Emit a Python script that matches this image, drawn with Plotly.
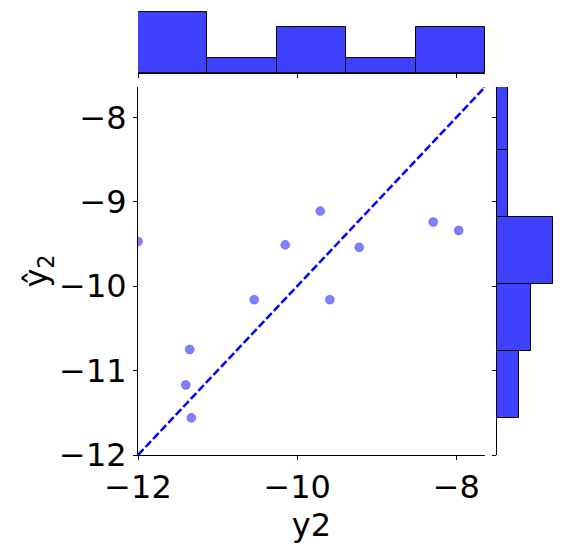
import plotly.graph_objects as go

# observed y2 vs predicted y2 hat (one point sits above the visible range)
y2_true = [-12.0, -9.71, -10.15, -9.22, -8.29, -7.97, -10.54, -9.59, -11.35, -11.40, -11.33, -7.64]
y2_pred = [-9.47, -9.11, -9.51, -9.54, -9.24, -9.34, -10.16, -10.16, -10.75, -11.17, -11.56, -7.60]
tick_vals_x = [-12, -10, -8]
tick_vals_y = [-12, -11, -10, -9, -8]
lim = [-12.0, -7.64]
n_bins = 5

font = "DejaVu Sans, sans-serif"
hist_fill = "rgba(0,0,255,0.75)"

fig = go.Figure()

fig.add_trace(go.Scatter(
    x=y2_true, y=y2_pred, mode="markers",
    marker=dict(size=9, color="rgba(0,0,255,0.5)",
                line=dict(width=1, color="rgba(0,0,255,0.25)")),
    xaxis="x", yaxis="y", showlegend=False))

fig.add_trace(go.Scatter(
    x=lim, y=lim, mode="lines",
    line=dict(color="blue", width=2.5, dash="8px,3px"),
    xaxis="x", yaxis="y", showlegend=False))

xs = (max(y2_true) - min(y2_true)) / n_bins * 1.0001
fig.add_trace(go.Histogram(
    x=y2_true, xbins=dict(start=min(y2_true), end=max(y2_true), size=xs),
    marker=dict(color=hist_fill, line=dict(color="black", width=1)),
    xaxis="x2", yaxis="y2", showlegend=False))

ys = (max(y2_pred) - min(y2_pred)) / n_bins * 1.0001
fig.add_trace(go.Histogram(
    y=y2_pred, ybins=dict(start=min(y2_pred), end=max(y2_pred), size=ys),
    marker=dict(color=hist_fill, line=dict(color="black", width=1)),
    xaxis="x3", yaxis="y3", showlegend=False))

axis_common = dict(showgrid=False, zeroline=False, showline=True, linecolor="black",
                   linewidth=1, ticks="outside", ticklen=4, tickwidth=1,
                   tickcolor="black", mirror=False, automargin=False)
big = dict(family=font, size=32, color="black")

fig.update_layout(
    width=565, height=547,
    margin=dict(l=0, r=0, t=0, b=0),
    plot_bgcolor="white", paper_bgcolor="white",
    bargap=0,
    font=big,
    xaxis=dict(domain=[0.2301, 0.8442], range=lim, tickvals=tick_vals_x, tickfont=big,
               title=dict(text="y2", font=big, standoff=0), anchor="y", **axis_common),
    yaxis=dict(domain=[0.1828, 0.8556], range=lim, tickvals=tick_vals_y, tickfont=big,
               title=dict(text="ŷ<sub>2</sub>", font=big, standoff=0), anchor="x",
               **axis_common),
    xaxis2=dict(domain=[0.2301, 0.8442], range=lim, tickvals=tick_vals_x,
                showticklabels=False, anchor="y2", **axis_common),
    yaxis2=dict(domain=[0.8812, 0.998], range=[0, 4.2], visible=False, anchor="x2"),
    xaxis3=dict(domain=[0.8655, 0.9699], range=[0, 5.25], visible=False, anchor="y3"),
    yaxis3=dict(domain=[0.1828, 0.8556], range=lim, tickvals=tick_vals_y,
                showticklabels=False, anchor="x3", **axis_common),
)

fig.write_html("out.html")
